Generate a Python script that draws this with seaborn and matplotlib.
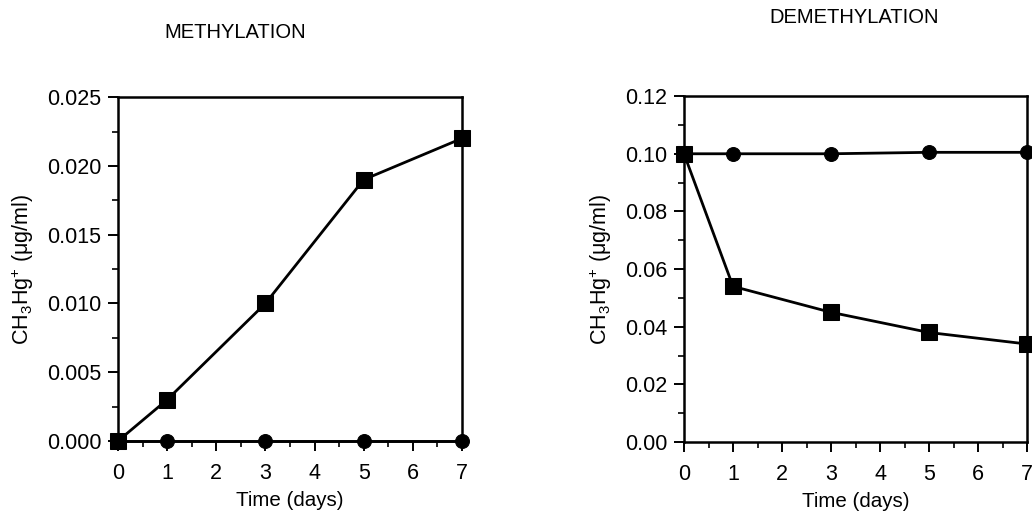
import matplotlib
matplotlib.use("Agg")
import matplotlib.pyplot as plt
import pandas as pd
import seaborn as sns
from matplotlib.ticker import MultipleLocator, FormatStrFormatter

# sampling days
days = [0, 1, 3, 5, 7]

# methylation panel
meth_square = [0.0, 0.003, 0.010, 0.019, 0.022]
meth_circle = [0.0, 0.0, 0.0, 0.0, 0.0]

# demethylation panel
demeth_circle = [0.100, 0.100, 0.100, 0.1005, 0.1005]
demeth_square = [0.100, 0.054, 0.045, 0.038, 0.034]

titles = ["METHYLATION", "DEMETHYLATION"]
ylabel = "CH$_{\\mathregular{3}}$Hg$^{\\mathregular{+}}$ ($\\mathregular{\\mu}$g/ml)"
xlabel = "Time (days)"

sns.set_theme(style="ticks")
plt.rcParams['font.family'] = ['Liberation Sans', 'DejaVu Sans']
plt.rcParams['mathtext.fontset'] = 'custom'
plt.rcParams['mathtext.rm'] = 'Liberation Sans'
plt.rcParams['mathtext.it'] = 'Liberation Sans'
plt.rcParams['text.color'] = 'black'
plt.rcParams['axes.labelcolor'] = 'black'

fig = plt.figure(figsize=(10.32, 5.14), dpi=100)
ax1 = fig.add_axes([0.1143, 0.142, 0.3333, 0.669])
ax2 = fig.add_axes([0.6628, 0.140, 0.3324, 0.673])


def draw(ax, square, circle, ymax, ymajor, fmt):
    df_c = pd.DataFrame({"day": days, "val": circle})
    df_s = pd.DataFrame({"day": days, "val": square})
    sns.lineplot(data=df_c, x="day", y="val", ax=ax, color="black", lw=2.0,
                 marker="o", markersize=10, markeredgecolor="black",
                 clip_on=False, zorder=3)
    sns.lineplot(data=df_s, x="day", y="val", ax=ax, color="black", lw=2.0,
                 marker="s", markersize=11, markeredgecolor="black",
                 clip_on=False, zorder=4)
    ax.set_xlim(0, 7)
    ax.set_ylim(0, ymax)
    ax.xaxis.set_major_locator(MultipleLocator(1))
    ax.xaxis.set_minor_locator(MultipleLocator(0.5))
    ax.yaxis.set_major_locator(MultipleLocator(ymajor))
    ax.yaxis.set_minor_locator(MultipleLocator(ymajor / 2))
    ax.yaxis.set_major_formatter(FormatStrFormatter(fmt))
    for s in ax.spines.values():
        s.set_linewidth(1.8)
        s.set_color("black")
        s.set_visible(True)
    ax.tick_params(which="major", direction="out", length=7, width=1.4,
                   labelsize=15.5, colors="black")
    ax.tick_params(axis="x", which="major", pad=9)
    ax.tick_params(axis="y", which="major", pad=5)
    ax.tick_params(which="minor", direction="out", length=4, width=1.2,
                   colors="black")
    ax.set_xlabel(xlabel, fontsize=14.8, labelpad=5)
    ax.set_ylabel(ylabel, fontsize=15.5, labelpad=8)


draw(ax1, meth_square, meth_circle, 0.025, 0.005, "%.3f")
draw(ax2, demeth_square, demeth_circle, 0.12, 0.02, "%.2f")

fig.text(0.228, 0.936, titles[0], ha="center", va="center", fontsize=14.5)
fig.text(0.828, 0.965, titles[1], ha="center", va="center", fontsize=14.5)

fig.savefig("out.png", dpi=100)
